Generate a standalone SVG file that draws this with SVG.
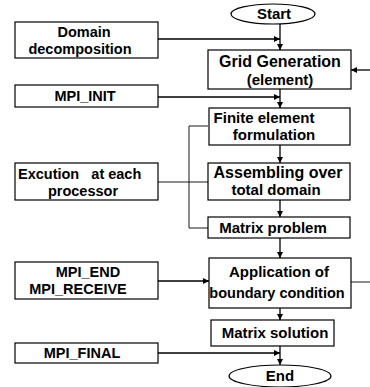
<svg xmlns="http://www.w3.org/2000/svg" width="370" height="387" viewBox="0 0 370 387">
<style>
.box{fill:#fff;stroke:#000;stroke-width:1.2}
.t{font-family:"Liberation Sans",Arial,sans-serif;font-weight:bold;font-size:14.5px;fill:#000;text-anchor:middle}
.r{font-size:15px}
.big{font-size:16px}
.ln{fill:none;stroke:#000;stroke-width:1.3}
.thin{fill:none;stroke:#000;stroke-width:0.9}
</style>
<defs>
<marker id="ah" viewBox="0 0 10 10" refX="10" refY="5" markerWidth="6" markerHeight="6" markerUnits="userSpaceOnUse" orient="auto">
<path d="M0,0 L10,5 L0,10 z" fill="#000"/>
</marker>
</defs>
<rect width="370" height="387" fill="#fff"/>
<g id="connectors">
<line class="ln" x1="280" y1="24" x2="280" y2="50" marker-end="url(#ah)"/>
<line class="ln" x1="158" y1="39" x2="280" y2="39" marker-end="url(#ah)"/>
<line class="ln" x1="280" y1="89" x2="280" y2="108" marker-end="url(#ah)"/>
<line class="ln" x1="158" y1="97" x2="280" y2="97" marker-end="url(#ah)"/>
<line class="ln" x1="280" y1="145" x2="280" y2="163" marker-end="url(#ah)"/>
<line class="ln" x1="280" y1="200" x2="280" y2="217" marker-end="url(#ah)"/>
<line class="ln" x1="280" y1="238" x2="280" y2="258" marker-end="url(#ah)"/>
<line class="ln" x1="158" y1="281" x2="209" y2="281" marker-end="url(#ah)"/>
<line class="ln" x1="280" y1="308" x2="280" y2="320" marker-end="url(#ah)"/>
<line class="ln" x1="280" y1="346" x2="280" y2="365" marker-end="url(#ah)"/>
<line class="ln" x1="158" y1="353" x2="280" y2="353" marker-end="url(#ah)"/>
<line class="ln" x1="370" y1="70" x2="351" y2="70" marker-end="url(#ah)"/>
<line class="thin" x1="351" y1="282" x2="370" y2="282"/>
<polyline class="thin" points="208,126 189,126 189,228 208,228"/>
<line class="thin" x1="158" y1="182" x2="208" y2="182"/>
</g>
<g id="start">
<ellipse class="box" cx="273" cy="14" rx="42" ry="10"/>
<text class="t r" x="274" y="19">Start</text>
</g>
<g id="domain">
<rect class="box" x="15" y="22" width="143" height="36"/>
<text class="t" x="84" y="37">Domain</text>
<text class="t" x="80" y="54">decomposition</text>
</g>
<g id="mpi_init">
<rect class="box" x="15" y="85" width="143" height="22"/>
<text class="t" x="85" y="101">MPI_INIT</text>
</g>
<g id="excution">
<rect class="box" x="15" y="163" width="143" height="37"/>
<text class="t" x="18" y="179" style="text-anchor:start;white-space:pre" xml:space="preserve">Excution   at each</text>
<text class="t" x="83" y="196">processor</text>
</g>
<g id="mpi_end">
<rect class="box" x="15" y="262" width="143" height="37"/>
<text class="t" x="88" y="277">MPI_END</text>
<text class="t" x="78" y="294">MPI_RECEIVE</text>
</g>
<g id="mpi_final">
<rect class="box" x="15" y="343" width="143" height="20"/>
<text class="t" x="82" y="358">MPI_FINAL</text>
</g>
<g id="grid">
<rect class="box" x="208" y="50" width="143" height="39"/>
<text class="t big" x="280" y="67">Grid Generation</text>
<text class="t r" x="280" y="85">(element)</text>
</g>
<g id="finite">
<rect class="box" x="209" y="108" width="141" height="37"/>
<text class="t r" x="264" y="123">Finite element</text>
<text class="t r" x="274" y="140">formulation</text>
</g>
<g id="assembling">
<rect class="box" x="208" y="163" width="142" height="37"/>
<text class="t big" x="278" y="178">Assembling over</text>
<text class="t r" x="276" y="195">total domain</text>
</g>
<g id="matrix_problem">
<rect class="box" x="208" y="217" width="142" height="21"/>
<text class="t r" x="273" y="233">Matrix problem</text>
</g>
<g id="application">
<rect class="box" x="209" y="258" width="142" height="50"/>
<text class="t r" x="279" y="277">Application of</text>
<text class="t" x="277" y="298">boundary condition</text>
</g>
<g id="matrix_solution">
<rect class="box" x="211" y="320" width="123" height="26"/>
<text class="t r" x="275" y="338">Matrix solution</text>
</g>
<g id="end">
<ellipse class="box" cx="280" cy="376" rx="51" ry="11"/>
<text class="t r" x="280" y="381">End</text>
</g>
</svg>
